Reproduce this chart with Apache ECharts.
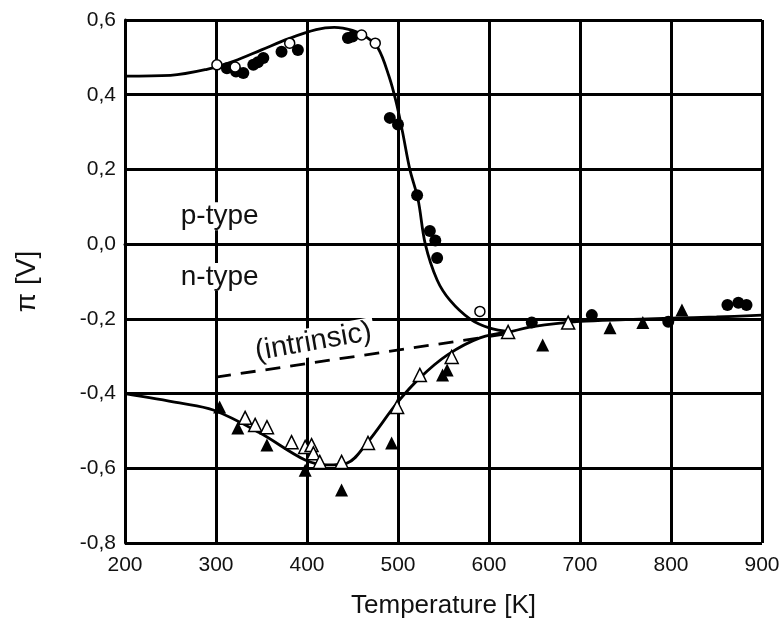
<!DOCTYPE html>
<html>
<head>
<meta charset="utf-8">
<script src="https://cdn.jsdelivr.net/npm/echarts@6/dist/echarts.min.js"></script>
<style>
html,body{margin:0;padding:0;background:#fff;}
#chart{width:784px;height:636px;}
</style>
</head>
<body>
<div id="chart"></div>
<script>
// ---- data ----
var xTicks = [200, 300, 400, 500, 600, 700, 800, 900];
var yTicks = [-0.8, -0.6, -0.4, -0.2, 0.0, 0.2, 0.4, 0.6];

// p-type fitted curve (T [K], pi [V])
var curveUpperT = [200, 250, 290, 320, 350, 380, 410, 430, 450, 465, 478, 490, 498, 505, 513, 522, 530, 543, 557, 579, 601, 623];
var curveUpperV = [0.45, 0.452, 0.468, 0.49, 0.52, 0.55, 0.574, 0.58, 0.572, 0.555, 0.525, 0.45, 0.38, 0.30, 0.20, 0.12, 0.0, -0.096, -0.15, -0.2, -0.225, -0.235];

// n-type fitted curve
var curveLowerT = [200, 260, 297, 348, 398, 422, 444, 466, 499, 524, 554, 590, 623];
var curveLowerV = [-0.40, -0.425, -0.444, -0.505, -0.578, -0.591, -0.586, -0.532, -0.425, -0.358, -0.297, -0.251, -0.235];

// common high-temperature part
var curveTailT = [623, 650, 700, 750, 800, 850, 900];
var curveTailV = [-0.235, -0.22, -0.207, -0.202, -0.198, -0.195, -0.19];

// intrinsic (dashed)
var intrinsicT = [300, 620];
var intrinsicV = [-0.356, -0.24];

// measured points
var filledCircleT = [312, 322, 330, 341, 346, 352, 372, 390, 445, 450, 491, 500, 521, 535, 541, 543, 647, 713, 797, 862, 874, 883];
var filledCircleV = [0.471, 0.462, 0.458, 0.48, 0.487, 0.498, 0.515, 0.52, 0.552, 0.556, 0.338, 0.32, 0.131, 0.035, 0.01, -0.037, -0.21, -0.19, -0.208, -0.163, -0.157, -0.163];

var openCircleT = [301, 321, 381, 460, 475, 590];
var openCircleV = [0.48, 0.474, 0.538, 0.56, 0.538, -0.18];

var filledTriT = [304, 324, 356, 398, 438, 493, 549, 554, 659, 733, 769, 812];
var filledTriV = [-0.436, -0.492, -0.538, -0.605, -0.658, -0.532, -0.35, -0.337, -0.27, -0.224, -0.21, -0.176];

var openTriT = [332, 343, 356, 383, 398, 405, 407, 414, 438, 467, 499, 524, 559, 621, 687];
var openTriV = [-0.465, -0.484, -0.49, -0.53, -0.543, -0.538, -0.56, -0.583, -0.583, -0.532, -0.436, -0.35, -0.302, -0.235, -0.21];

var labels = [
  {text: 'p-type', T: 304, V: 0.075, rot: 0},
  {text: 'n-type', T: 304, V: -0.088, rot: 0},
  {text: '(intrinsic)', T: 407, V: -0.262, rot: 10}
];

function zip(a, b) { return a.map(function (v, i) { return [v, b[i]]; }); }

var FONT = '"Liberation Sans", Arial, sans-serif';
var chart = echarts.init(document.getElementById('chart'), null, {renderer: 'canvas'});

var lineStyleSolid = {color: '#000', width: 2.8};
var option = {
  animation: false,
  backgroundColor: '#fff',
  grid: {left: 125, right: 22, top: 20, bottom: 93, containLabel: false},
  xAxis: {
    type: 'value', min: 200, max: 900, interval: 100,
    name: 'Temperature [K]', nameLocation: 'middle', nameGap: 50,
    nameTextStyle: {fontFamily: FONT, fontSize: 26, color: '#111'},
    axisLine: {show: true, lineStyle: {color: '#000', width: 3}},
    axisTick: {show: false},
    splitLine: {show: true, lineStyle: {color: '#000', width: 3}},
    axisLabel: {fontFamily: FONT, fontSize: 21, color: '#111', margin: 12,
      formatter: function (v) { return xTicks.indexOf(v) >= 0 ? String(v) : ''; }}
  },
  yAxis: {
    type: 'value', min: -0.8, max: 0.6, interval: 0.2,
    name: 'π [V]', nameLocation: 'middle', nameGap: 84, nameRotate: 90,
    nameTextStyle: {fontFamily: FONT, fontSize: 28, color: '#111'},
    axisLine: {show: true, onZero: false, lineStyle: {color: '#000', width: 3}},
    axisTick: {show: false},
    splitLine: {show: true, lineStyle: {color: '#000', width: 3}},
    axisLabel: {fontFamily: FONT, fontSize: 21, color: '#111', margin: 9,
      formatter: function (v) {
        if (Math.abs(v) < 1e-9) v = 0;
        return v.toFixed(1).replace('.', ',');
      }}
  },
  series: [
    {type: 'line', data: zip(curveUpperT, curveUpperV), smooth: 0.35, symbol: 'none', lineStyle: lineStyleSolid, z: 3},
    {type: 'line', data: zip(curveLowerT, curveLowerV), smooth: 0.35, symbol: 'none', lineStyle: lineStyleSolid, z: 3},
    {type: 'line', data: zip(curveTailT, curveTailV), smooth: 0.35, symbol: 'none', lineStyle: lineStyleSolid, z: 3},
    {type: 'line', data: zip(intrinsicT, intrinsicV), symbol: 'none', lineStyle: {color: '#000', width: 2.8, type: [15, 10]}, z: 3},
    {type: 'scatter', data: zip(filledCircleT, filledCircleV), symbol: 'circle', symbolSize: 12,
      itemStyle: {color: '#000', opacity: 1}, z: 5},
    {type: 'scatter', data: zip(openCircleT, openCircleV), symbol: 'circle', symbolSize: 10,
      itemStyle: {color: '#fff', borderColor: '#000', borderWidth: 1.5, opacity: 1}, z: 5},
    {type: 'scatter', data: zip(filledTriT, filledTriV), symbol: 'triangle', symbolSize: 13,
      itemStyle: {color: '#000', opacity: 1}, z: 5},
    {type: 'scatter', data: zip(openTriT, openTriV), symbol: 'triangle', symbolSize: 13,
      itemStyle: {color: '#fff', borderColor: '#000', borderWidth: 1.5, opacity: 1}, z: 5}
  ]
};
chart.setOption(option);

var g = labels.map(function (l) {
  var p = chart.convertToPixel({gridIndex: 0}, [l.T, l.V]);
  return {
    type: 'text', x: p[0], y: p[1], rotation: l.rot * Math.PI / 180, z: 4,
    style: {text: l.text, font: (l.rot ? '29px ' : '28px ') + FONT, fill: '#111', align: 'center', verticalAlign: 'middle',
      backgroundColor: '#fff', padding: [0, 3]}
  };
});
chart.setOption({graphic: g});
</script>
</body>
</html>
